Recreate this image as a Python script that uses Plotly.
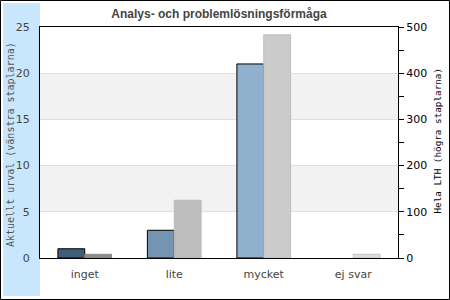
import plotly.graph_objects as go

categories = ["inget", "lite", "mycket", "ej svar"]
urval_values = [1, 3, 21, 0]
lth_values = [8, 125, 483, 8]
urval_colors = ["#3f5e7c", "#7494b1", "#8fb1cd", "#a9c6de"]
urval_line_widths = [1, 1, 1, 0]
lth_colors = ["#8a8a8a", "#bdbdbd", "#cbcbcb", "#dcdcdc"]
lth_line_colors = ["#8a8a8a", "#bdbdbd", "#bdbdbd", "#c4c4c4"]
left_ticks = [0, 5, 10, 15, 20, 25]
right_ticks = [0, 100, 200, 300, 400, 500]

W, H = 450, 300
L, R, T, B = 40, 52, 27, 42
pw, ph = W - L - R, H - T - B

def px_x(x):
    return (x - L) / pw

def px_y(y):
    return (H - B - y) / ph

fig = go.Figure()
fig.add_trace(go.Bar(
    x=categories, y=urval_values, yaxis="y", width=0.3, offset=-0.3,
    marker=dict(color=urval_colors, line=dict(color="black", width=urval_line_widths)),
    showlegend=False, hoverinfo="skip"))
fig.add_trace(go.Bar(
    x=categories, y=lth_values, yaxis="y2", width=0.3, offset=0,
    marker=dict(color=lth_colors, line=dict(color=lth_line_colors, width=1)),
    showlegend=False, hoverinfo="skip"))

shapes = [
    dict(type="rect", xref="paper", yref="paper", x0=px_x(3), x1=px_x(40), y0=px_y(3), y1=px_y(296),
         fillcolor="#c8e7fd", line=dict(width=0), layer="below"),
    dict(type="rect", xref="paper", yref="y", x0=0, x1=1, y0=5, y1=10,
         fillcolor="#f2f2f2", line=dict(width=0), layer="below"),
    dict(type="rect", xref="paper", yref="y", x0=0, x1=1, y0=15, y1=20,
         fillcolor="#f2f2f2", line=dict(width=0), layer="below"),
    dict(type="rect", xref="paper", yref="paper", x0=px_x(0.5), x1=px_x(449.5), y0=px_y(0.5), y1=px_y(299.5),
         line=dict(color="black", width=1), fillcolor="rgba(0,0,0,0)"),
]

fig.update_layout(
    width=W, height=H,
    margin=dict(l=L, r=R, t=T, b=B),
    paper_bgcolor="white", plot_bgcolor="white",
    barmode="overlay",
    shapes=shapes,
    font=dict(family="DejaVu Sans", size=11, color="#444"),
    title=dict(text="<b>Analys- och problemlösningsförmåga</b>", x=0.5, xref="paper", xanchor="center",
               y=1 - 14 / H, yanchor="middle",
               font=dict(family="Liberation Sans", size=12, color="#444")),
    xaxis=dict(showline=True, linecolor="black", linewidth=1, mirror=True, ticks="",
               showgrid=False, tickfont=dict(size=11, color="#444"), range=[-0.5, 3.5],
               ticklabelstandoff=6),
    yaxis=dict(range=[0, 25], tickvals=left_ticks, showline=True, linecolor="black", linewidth=1,
               mirror=True, ticks="", showgrid=True, gridcolor="#e0e0e0", gridwidth=1,
               zeroline=False, tickfont=dict(size=11, color="#444"), ticklabelstandoff=7),
    yaxis2=dict(range=[0, 500], tickvals=right_ticks, overlaying="y", side="right",
                showline=True, linecolor="black", linewidth=1, ticks="outside", ticklen=5,
                tickcolor="black", showgrid=False, zeroline=False,
                tickfont=dict(size=11, color="black"),
                minor=dict(ticks="outside", ticklen=5, tickcolor="black", dtick=50, tick0=0, showgrid=False)),
    annotations=[
        dict(text="Aktuellt urval (vänstra staplarna)", xref="paper", yref="paper",
             x=px_x(10), y=px_y(145), textangle=-90, showarrow=False,
             font=dict(family="DejaVu Sans Mono", size=10, color="#555"), xanchor="center", yanchor="middle"),
        dict(text="Hela LTH (högra staplarna)", xref="paper", yref="paper",
             x=px_x(437), y=px_y(140.5), textangle=-90, showarrow=False,
             font=dict(family="DejaVu Sans Mono", size=9.3, color="black"), xanchor="center", yanchor="middle"),
    ],
)

fig.write_html("out.html")
